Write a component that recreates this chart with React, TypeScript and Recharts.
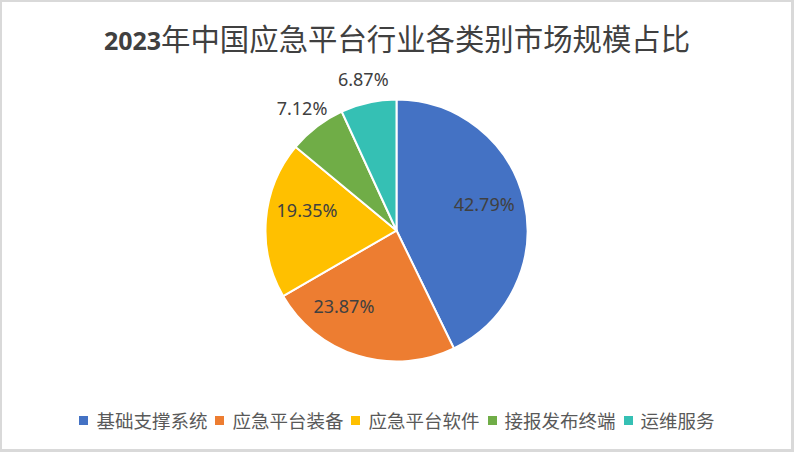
import { PieChart, Pie, Cell, Legend } from "recharts";

// ─── Data ───
const categories = ["基础支撑系统", "应急平台装备", "应急平台软件", "接报发布终端", "运维服务"];
const shares = [42.79, 23.87, 19.35, 7.12, 6.87];
const colors = ["#4472C4", "#ED7D31", "#FFC000", "#70AD47", "#35C0B4"];

const TITLE_YEAR = "2023";
const TITLE_REST = "年中国应急平台行业各类别市场规模占比";

// Excel "best fit" puts the inner labels a little off the slice middle
const labelAngleNudge = [4, -18, -8, 0, 0];

const data = categories.map((name, i) => ({ name, value: shares[i] }));

const W = 794;
const H = 452;

function SliceLabel(props: any) {
  const { cx, cy, midAngle, outerRadius, value, index } = props;
  const RAD = Math.PI / 180;
  const inside = value >= 10;
  const r = inside ? outerRadius * 0.7 : outerRadius + 24;
  const a = (midAngle + (labelAngleNudge[index] || 0)) * RAD;
  const x = cx + r * Math.cos(a);
  const y = cy - r * Math.sin(a);
  return (
    <text
      x={x}
      y={y}
      textAnchor="middle"
      dominantBaseline="central"
      fill="#404040"
      fontSize={18}
      fontFamily="'Noto Sans', sans-serif"
    >
      {value.toFixed(2)}%
    </text>
  );
}

function LegendRow() {
  return (
    <div
      style={{
        display: "flex",
        justifyContent: "center",
        alignItems: "center",
        height: 28,
        fontFamily: "'Noto Sans CJK SC', sans-serif",
        fontSize: 18.5,
        color: "#595959",
        whiteSpace: "nowrap",
      }}
    >
      {categories.map((c, i) => (
        <div key={c} style={{ display: "flex", alignItems: "center", marginRight: i < categories.length - 1 ? 8 : 0 }}>
          <span style={{ width: 9, height: 9, background: colors[i], marginRight: 8, display: "inline-block" }} />
          <span style={{ lineHeight: "28px" }}>{c}</span>
        </div>
      ))}
    </div>
  );
}

export default function App() {
  return (
    <div
      style={{
        position: "absolute",
        left: 0,
        top: 0,
        width: W,
        height: H,
        background: "#fff",
        overflow: "hidden",
      }}
    >
      {/* Title */}
      <div
        style={{
          position: "absolute",
          left: 0,
          top: 19,
          width: W,
          height: 36,
          lineHeight: "36px",
          textAlign: "center",
          color: "#404040",
          whiteSpace: "nowrap",
        }}
      >
        <span style={{ fontFamily: "'Noto Sans', sans-serif", fontWeight: 700, fontSize: 25 }}>{TITLE_YEAR}</span>
        <span style={{ fontFamily: "'Noto Sans CJK SC', sans-serif", fontWeight: 400, fontSize: 29.4 }}>{TITLE_REST}</span>
      </div>

      <div style={{ position: "absolute", left: 0, top: 0 }}>
        <PieChart width={W} height={H} margin={{ top: 0, right: 0, bottom: 0, left: 0 }}>
          <Pie
            data={data}
            dataKey="value"
            nameKey="name"
            cx={396.5}
            cy={230.5}
            outerRadius={131}
            startAngle={90}
            endAngle={-270}
            stroke="#ffffff"
            strokeWidth={2}
            label={SliceLabel}
            labelLine={false}
            isAnimationActive={false}
          >
            {data.map((d, i) => (
              <Cell key={d.name} fill={colors[i]} />
            ))}
          </Pie>
          <Legend
            content={<LegendRow />}
            wrapperStyle={{ position: "absolute", left: 0, top: 406, width: W, height: 28 }}
          />
        </PieChart>
      </div>

      {/* chart frame */}
      <div
        style={{
          position: "absolute",
          inset: 0,
          borderTop: "2px solid #d9d9d9",
          borderLeft: "2px solid #d9d9d9",
          borderRight: "3px solid #d9d9d9",
          borderBottom: "3px solid #d9d9d9",
          pointerEvents: "none",
        }}
      />
    </div>
  );
}
